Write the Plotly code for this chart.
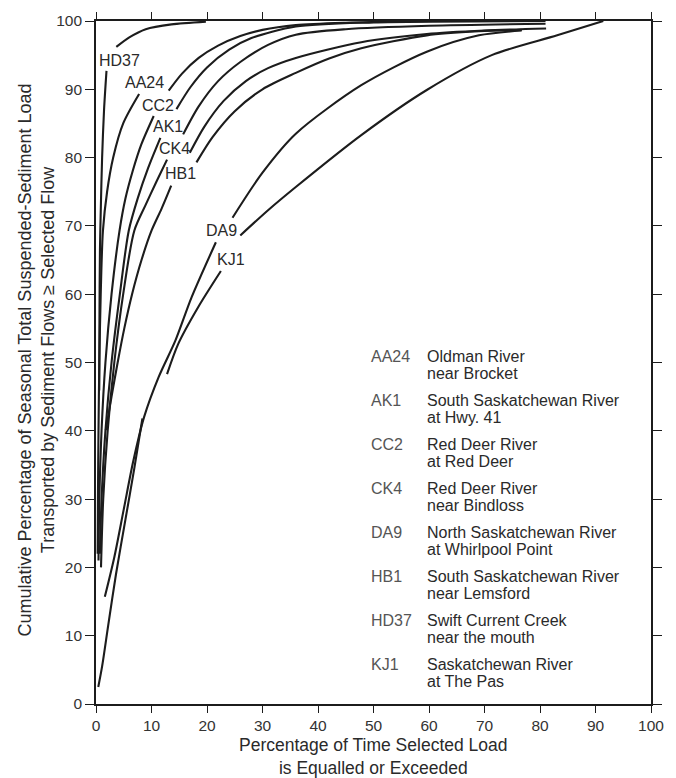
import plotly.graph_objects as go

# Percentage of time (x) vs cumulative percentage of suspended-sediment load (y).
# Each station curve is drawn in pieces; None marks a break in the line
# (where a label sits on the curve or where two curves run together).
HD37_X = [0.58, 0.62, 0.71, 0.85, 1.1, 1.45, 1.89, None, 3.66, 6.0, 8.96, 13.6, 19.8]
HD37_Y = [45.9, 56, 66.4, 72, 80, 87, 92.7, None, 96.2, 97.6, 98.8, 99.5, 99.9]

AA24_X = [0.3, 0.35, 0.45, 0.6, 0.85, 1.25, 2.0, 3.1, 4.9, 7.77, None,
          13.1, 15.5, 18.5, 22, 26, 30, 36, 45, 60.2]
AA24_Y = [22, 30, 40, 50, 60, 69.3, 75, 80, 85, 89.3, None,
          89.8, 92.3, 94.6, 96.4, 97.8, 98.7, 99.4, 99.75, 100]

CC2_X = [0.45, 0.6, 1.0, 1.7, 2.8, 4.24, 5.3, 6.6, 8.2, 10.4, None,
         14.5, 17, 20, 24, 28, 36, 50, 81]
CC2_Y = [21, 30, 40, 50, 60, 69.3, 74, 78, 82, 86.1, None,
         87.1, 90.3, 93.2, 95.8, 97.5, 99.2, 99.8, 100]

AK1_X = [0.7, 1.0, 1.7, 2.8, 4.3, 5.9, 7.5, 9.4, 11.6, None,
         15.7, 18.5, 22, 26, 31, 36, 45, 60, 81]
AK1_Y = [22, 30, 40, 50, 60, 69.3, 74, 78.5, 82.9, None,
         83.4, 87.5, 91.2, 94, 96.5, 98.0, 98.8, 99.3, 99.6]

CK4_X = [0.9, 1.3, 2.1, 3.3, 4.9, 6.9, 8.9, 10.9, 12.8, None,
         16.9, 19.5, 23, 27, 31, 36, 47.8, 59.6, 70, 81.1]
CK4_Y = [20, 30, 40, 50, 60, 69.3, 73, 76.5, 79.7, None,
         80.7, 84.5, 88.3, 91.2, 93.1, 94.6, 96.9, 98.1, 98.6, 98.9]

HB1_X = [1.77, 2.8, 3.9, 5.1, 6.5, 8.2, 10.0, 11.8, 13.55, None,
         18.1, 21, 25, 30, 36, 42, 47.8, 59.6, 69, 76.7]
HB1_Y = [40.1, 45, 50, 55, 60, 65, 69.3, 72.5, 75.9, None,
         79.3, 83, 86.8, 90, 92.4, 94.5, 96.0, 97.9, 98.5, 98.7]

DA9_X = [1.59, 3.3, 5.0, 6.7, 8.66, 11.3, 14.3, 17.2, 21.6, None,
         24.6, 30, 36.0, 47.8, 59.6, 69, 76.7]
DA9_Y = [15.7, 21.5, 28.5, 35.5, 42.0, 47.9, 53.2, 59.5, 67.6, None,
         71.2, 77.8, 83.5, 90.6, 95.5, 97.9, 98.6]

KJ1_X = [0.41, 1.1, 2.2, 3.6, 5.3, 6.9, 8.36, None,
         12.8, 14.8, 18.4, 22.5, None,
         26.0, 31, 36.0, 47.8, 59.6, 71.3, 83.1, 91.4]
KJ1_Y = [2.5, 5.5, 11.5, 19, 27, 34.5, 41.8, None,
         48.3, 52.7, 58.1, 63.4, None,
         68.6, 72.3, 75.7, 83.3, 89.9, 95.0, 97.9, 100]

CODES = ["AA24", "AK1", "CC2", "CK4", "DA9", "HB1", "HD37", "KJ1"]
NAMES_1 = ["Oldman River", "South Saskatchewan River", "Red Deer River",
           "Red Deer River", "North Saskatchewan River",
           "South Saskatchewan River", "Swift Current Creek",
           "Saskatchewan River"]
NAMES_2 = ["near Brocket", "at Hwy. 41", "at Red Deer", "near Bindloss",
           "at Whirlpool Point", "near Lemsford", "near the mouth",
           "at The Pas"]

X_TICKS = list(range(0, 101, 10))
Y_TICKS = list(range(0, 101, 10))

CURVES = {
    "HD37": (HD37_X, HD37_Y), "AA24": (AA24_X, AA24_Y),
    "CC2": (CC2_X, CC2_Y), "AK1": (AK1_X, AK1_Y),
    "CK4": (CK4_X, CK4_Y), "HB1": (HB1_X, HB1_Y),
    "DA9": (DA9_X, DA9_Y), "KJ1": (KJ1_X, KJ1_Y),
}

# where each station code is written on its curve (data units)
LABEL_AT = {
    "HD37": (4.15, 94.2), "AA24": (8.75, 91.0), "CC2": (11.1, 87.6),
    "AK1": (12.9, 84.5), "CK4": (14.1, 81.3), "HB1": (15.2, 77.7),
    "DA9": (22.6, 69.4), "KJ1": (24.4, 65.1),
}

FONT = "Liberation Sans, Arial, Helvetica, sans-serif"
INK = "#1c1c1c"
TEXT = "#2a2a2a"

fig = go.Figure()
for code, (xs, ys) in CURVES.items():
    fig.add_trace(go.Scatter(
        x=xs, y=ys, mode="lines", name=code, connectgaps=False,
        line=dict(color=INK, width=2.1, shape="spline", smoothing=0.8),
        hoverinfo="skip", showlegend=False,
    ))

annotations = []
for code, (lx, ly) in LABEL_AT.items():
    annotations.append(dict(
        x=lx, y=ly, xref="x", yref="y", text=code, showarrow=False,
        font=dict(family=FONT, size=16, color=TEXT),
        xanchor="center", yanchor="middle",
    ))

# key listing the stations, in the lower right of the plot
key_top, key_step, key_gap = 50.9, 6.45, 2.45
for i, code in enumerate(CODES):
    ry = key_top - i * key_step
    annotations.append(dict(
        x=49.1, y=ry, xref="x", yref="y", text=code, showarrow=False,
        font=dict(family=FONT, size=16, color="#555"),
        xanchor="left", yanchor="middle",
    ))
    annotations.append(dict(
        x=59.2, y=ry, xref="x", yref="y", text=NAMES_1[i], showarrow=False,
        font=dict(family=FONT, size=16, color=TEXT),
        xanchor="left", yanchor="middle",
    ))
    annotations.append(dict(
        x=59.2, y=ry - key_gap, xref="x", yref="y", text=NAMES_2[i],
        showarrow=False, font=dict(family=FONT, size=16, color=TEXT),
        xanchor="left", yanchor="middle",
    ))

annotations.append(dict(
    x=0.5, y=0, xref="paper", yref="paper", yshift=-29,
    text="Percentage of Time Selected Load<br>is Equalled or Exceeded",
    showarrow=False, xanchor="center", yanchor="top",
    font=dict(family=FONT, size=17.5, color=TEXT),
))
annotations.append(dict(
    x=0, y=0.5, xref="paper", yref="paper", xshift=-60, yshift=2,
    text=("Cumulative Percentage of Seasonal Total Suspended-Sediment Load"
          "<br>Transported by Sediment Flows \u2265 Selected Flow"),
    textangle=-90, showarrow=False, xanchor="center", yanchor="middle",
    font=dict(family=FONT, size=18, color=TEXT),
))

axis_common = dict(
    range=[0, 100], showgrid=False, zeroline=False, showline=True,
    linecolor=INK, linewidth=1.6, mirror="ticks", ticks="outside",
    tickcolor=INK, tickwidth=1.3,
    tickfont=dict(family=FONT, size=15.5, color="#333"),
)

# the frame's top and bottom rules run a little past the right edge
frame_stubs = [
    dict(type="line", xref="x", yref="y", x0=100, x1=101.6, y0=yv, y1=yv,
         line=dict(color=INK, width=1.6))
    for yv in (0, 100)
]

fig.update_layout(
    width=676, height=778,
    margin=dict(l=96, r=14, t=20, b=74),
    paper_bgcolor="white", plot_bgcolor="white",
    xaxis=dict(axis_common, tickvals=X_TICKS, ticklen=7),
    yaxis=dict(axis_common, tickvals=Y_TICKS, ticklen=9),
    annotations=annotations,
    shapes=frame_stubs,
)

fig.write_html("out.html")
